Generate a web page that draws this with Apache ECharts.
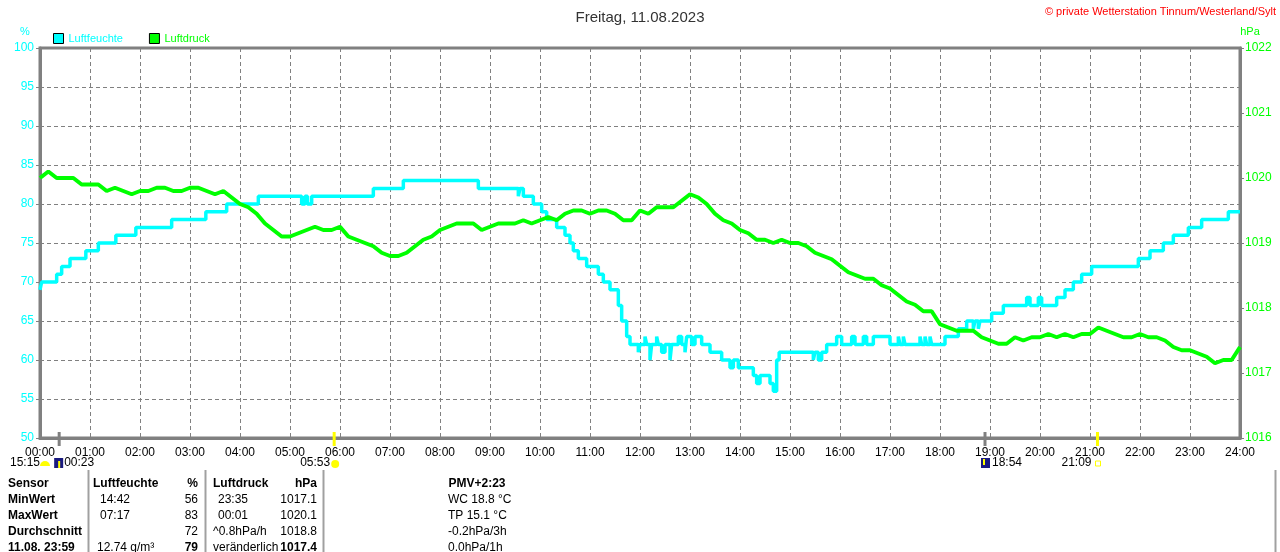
<!DOCTYPE html>
<html><head><meta charset="utf-8">
<script src="https://cdn.jsdelivr.net/npm/echarts@6/dist/echarts.min.js"></script>
<style>html,body{margin:0;padding:0;background:#fff}#c{width:1280px;height:552px}</style>
</head><body><div id="c"></div>
<script>
// ---------- data ----------
const titleText = "Freitag, 11.08.2023";
const copyrightText = "© private Wetterstation Tinnum/Westerland/Sylt";
const seriesNames = ["Luftfeuchte", "Luftdruck"];

// humidity (%) : value changes at given time (step function)
const humTimes = ["00:00","00:02","00:20","00:26","00:36","00:55","01:10","01:31","01:55","02:38","03:19","03:44","04:22","05:14","05:18","05:21","05:26","06:40","07:16","08:46","09:34","09:36","09:40","09:52","10:02","10:08","10:20","10:30","10:36","10:40","10:46","10:56","11:10","11:16","11:24","11:34","11:38","11:44","11:48","11:58","12:00","12:06","12:08","12:12","12:14","12:20","12:22","12:26","12:30","12:36","12:38","12:46","12:50","12:54","12:56","13:02","13:06","13:14","13:24","13:38","13:48","13:52","13:58","14:16","14:20","14:24","14:36","14:40","14:44","14:47","15:28","15:30","15:34","15:38","15:44","15:56","16:02","16:14","16:18","16:28","16:32","16:40","17:00","17:10","17:12","17:16","17:18","17:36","17:38","17:42","17:44","17:48","17:50","18:06","18:22","18:32","18:40","18:42","18:46","18:48","19:02","19:16","19:44","19:48","19:58","20:02","20:20","20:30","20:40","20:50","21:02","21:58","22:12","22:28","22:40","22:58","23:14","23:46","24:00"];
const humValues = [69,70,71,72,73,74,75,76,77,78,79,80,81,80,81,80,81,82,83,82,81,82,81,80,79,78,77,76,75,74,73,72,71,70,69,67,65,63,62,61,62,63,62,60,62,63,62,61,62,60,62,63,62,61,63,62,63,62,61,60,59,60,59,58,57,58,57,56,60,61,60,61,60,61,62,63,62,63,62,63,62,63,62,63,62,63,62,63,62,63,62,63,62,63,64,65,64,65,64,65,66,67,68,67,68,67,68,69,70,71,72,73,74,75,76,77,78,79,79];

// air pressure (hPa) every 10 minutes from 00:00 to 24:00
const presStepMinutes = 10;
const presValues = [
1020.0,1020.1,1020.0,1020.0,1020.0,1019.9,
1019.9,1019.9,1019.8,1019.85,1019.8,1019.75,
1019.8,1019.8,1019.85,1019.85,1019.8,1019.8,
1019.85,1019.85,1019.8,1019.75,1019.8,1019.7,
1019.6,1019.55,1019.45,1019.3,1019.2,1019.1,
1019.1,1019.15,1019.2,1019.25,1019.2,1019.2,
1019.25,1019.1,1019.05,1019.0,1018.95,1018.85,
1018.8,1018.8,1018.85,1018.95,1019.05,1019.1,
1019.2,1019.25,1019.3,1019.3,1019.3,1019.2,
1019.25,1019.3,1019.3,1019.3,1019.35,1019.3,
1019.35,1019.4,1019.35,1019.45,1019.5,1019.5,
1019.45,1019.5,1019.5,1019.45,1019.35,1019.35,
1019.5,1019.45,1019.55,1019.55,1019.55,1019.65,
1019.75,1019.7,1019.6,1019.45,1019.35,1019.3,
1019.2,1019.15,1019.05,1019.05,1019.0,1019.05,
1019.0,1019.0,1018.95,1018.85,1018.8,1018.75,
1018.65,1018.55,1018.5,1018.45,1018.45,1018.35,
1018.3,1018.2,1018.1,1018.05,1017.95,1017.95,
1017.75,1017.7,1017.65,1017.65,1017.65,1017.55,
1017.5,1017.45,1017.45,1017.55,1017.5,1017.55,
1017.55,1017.6,1017.55,1017.6,1017.55,1017.6,
1017.6,1017.7,1017.65,1017.6,1017.55,1017.55,
1017.6,1017.55,1017.55,1017.5,1017.4,1017.35,
1017.35,1017.3,1017.25,1017.15,1017.2,1017.2,
1017.4];

// sun / moon events
const eventTimes = ["00:23","05:53","18:54","21:09"];
const eventKinds = ["moonrise","sunrise","moonset","sunset"];
const eventColors = ["#808080","#ffff00","#808080","#ffff00"];

// statistics table
const tableHeader = ["Sensor","Luftfeuchte","%","Luftdruck","hPa","PMV+2:23"];
const rowLabels = ["MinWert","MaxWert","Durchschnitt","11.08. 23:59"];
const humTimeCol = ["14:42","07:17","","12.74 g/m³"];
const humValCol = ["56","83","72","79"];
const presTimeCol = ["23:35","00:01","^0.8hPa/h","veränderlich"];
const presValCol = ["1017.1","1020.1","1018.8","1017.4"];
const extraCol = ["WC 18.8 °C","TP 15.1 °C","-0.2hPa/3h","0.0hPa/1h"];

// ---------- chart ----------
const FONT = "'Liberation Sans', Arial, sans-serif";
const CYAN = "#00ffff", GREEN = "#00ff00", GRAY = "#808080";
function toMin(s){const p=s.split(":");return (+p[0])*60+(+p[1]);}
function pad(n){return (n<10?"0":"")+n;}

const humData = humTimes.map((t,i)=>[toMin(t), humValues[i]]);
const presData = presValues.map((v,i)=>[i*presStepMinutes, v]);

const chart = echarts.init(document.getElementById('c'), null, {renderer:'canvas'});
const option = {
  backgroundColor:'#fff',
  animation:false,
  textStyle:{fontFamily:FONT},
  title:{text:titleText,left:'center',top:5,textStyle:{fontFamily:FONT,fontSize:15,fontWeight:'normal',color:'#333'}},
  legend:{
    left:48, top:28, itemWidth:10, itemHeight:10, itemGap:26, icon:'rect',
    itemStyle:{borderColor:'#000',borderWidth:1},
    textStyle:{fontFamily:FONT,fontSize:11},
    data:[{name:seriesNames[0],textStyle:{color:CYAN}},{name:seriesNames[1],textStyle:{color:GREEN}}]
  },
  grid:{left:40,right:40,top:48,bottom:114,show:true,borderColor:GRAY,borderWidth:3,backgroundColor:'transparent'},
  xAxis:{
    type:'value',min:0,max:1440,interval:60,
    axisLine:{show:true,lineStyle:{color:GRAY,width:3}},
    axisTick:{show:false},
    axisLabel:{color:'#000',fontFamily:FONT,fontSize:12,margin:9,formatter:v=>pad(Math.round(v/60))+":00"},
    splitLine:{show:true,lineStyle:{color:GRAY,type:[4,3],width:1}}
  },
  yAxis:[
    {type:'value',min:50,max:100,interval:5,position:'left',
     axisLine:{show:true,lineStyle:{color:GRAY,width:3}},
     axisTick:{show:true,length:4,lineStyle:{color:GRAY,width:1}},
     axisLabel:{color:CYAN,fontFamily:FONT,fontSize:12,margin:6},
     splitLine:{show:true,lineStyle:{color:GRAY,type:[4,3],width:1}}},
    {type:'value',min:1016,max:1022,interval:1,position:'right',
     axisLine:{show:true,lineStyle:{color:GRAY,width:3}},
     axisTick:{show:true,length:4,lineStyle:{color:GRAY,width:1}},
     axisLabel:{color:GREEN,fontFamily:FONT,fontSize:12,margin:5,formatter:v=>String(v)},
     splitLine:{show:false}}
  ],
  series:[
    {name:seriesNames[0],type:'line',yAxisIndex:0,step:'end',data:humData,showSymbol:false,
     lineStyle:{color:CYAN,width:3.5},itemStyle:{color:CYAN},z:3},
    {name:seriesNames[1],type:'line',yAxisIndex:1,data:presData,showSymbol:false,
     lineStyle:{color:GREEN,width:4},itemStyle:{color:GREEN},z:4}
  ]
};
chart.setOption(option);

// ---------- extra graphics (units, events, table) ----------
const g = [];
function txt(x,y,t,opt){g.push({type:'text',x:x,y:y,silent:true,style:Object.assign({text:t,fill:'#000',font:'12px '+FONT,textVerticalAlign:'middle'},opt||{})});}
txt(25,32,'%',{fill:CYAN,font:'11px '+FONT,textAlign:'center'});
txt(1250,32,'hPa',{fill:GREEN,font:'11px '+FONT,textAlign:'center'});
txt(1276,12,copyrightText,{fill:'#ff0000',font:'11px '+FONT,textAlign:'right'});

const yAxisPix = chart.convertToPixel({yAxisIndex:0},50);
eventTimes.forEach((t,i)=>{
  const x = chart.convertToPixel({xAxisIndex:0},toMin(t));
  g.push({type:'rect',shape:{x:x-1.5,y:yAxisPix-6,width:3,height:14},style:{fill:eventColors[i]},silent:true,z:10});
});
// event labels row
const rowY = 463;
txt(10,rowY,'15:15');
g.push({type:'sector',shape:{cx:45,cy:rowY+3,r:5,startAngle:Math.PI,endAngle:2*Math.PI},style:{fill:'#ffff00'},silent:true});
(function(){
  const x0 = chart.convertToPixel({xAxisIndex:0},toMin(eventTimes[0]));
  g.push({type:'rect',shape:{x:x0-5,y:rowY-5,width:9,height:10},style:{fill:'#1a1a80'},silent:true});
  g.push({type:'rect',shape:{x:x0-1,y:rowY-2,width:2,height:7},style:{fill:'#ffff00'},silent:true});
  txt(x0+5,rowY,eventTimes[0]);
  const x1 = chart.convertToPixel({xAxisIndex:0},toMin(eventTimes[1]));
  txt(x1-4,rowY,eventTimes[1],{textAlign:'right'});
  g.push({type:'circle',shape:{cx:x1+1,cy:rowY+1,r:4},style:{fill:'#ffff00'},silent:true});
  const x2 = chart.convertToPixel({xAxisIndex:0},toMin(eventTimes[2]));
  g.push({type:'rect',shape:{x:x2-4,y:rowY-5,width:9,height:10},style:{fill:'#1a1a80'},silent:true});
  g.push({type:'rect',shape:{x:x2-2,y:rowY-4,width:2,height:6},style:{fill:'#ffff00'},silent:true});
  txt(x2+7,rowY,eventTimes[2]);
  const x3 = chart.convertToPixel({xAxisIndex:0},toMin(eventTimes[3]));
  txt(x3-6,rowY,eventTimes[3],{textAlign:'right'});
  g.push({type:'rect',shape:{x:x3-2,y:rowY-2,width:5,height:5},style:{fill:'none',stroke:'#ffff00',lineWidth:1},silent:true});
})();

// table
const B = 'bold 12px '+FONT, N = '12px '+FONT;
const rowsY = [484,500,516,532,548];
[88.5,205.5,323.5].forEach(x=>g.push({type:'line',shape:{x1:x,y1:470,x2:x,y2:552},style:{stroke:'#a0a0a0',lineWidth:2},silent:true}));
g.push({type:'line',shape:{x1:1275.5,y1:470,x2:1275.5,y2:552},style:{stroke:'#a0a0a0',lineWidth:2},silent:true});
txt(8,rowsY[0],tableHeader[0],{font:B});
txt(93,rowsY[0],tableHeader[1],{font:B});
txt(198,rowsY[0],tableHeader[2],{font:B,textAlign:'right'});
txt(213,rowsY[0],tableHeader[3],{font:B});
txt(317,rowsY[0],tableHeader[4],{font:B,textAlign:'right'});
txt(477,rowsY[0],tableHeader[5],{font:B,textAlign:'center'});
rowLabels.forEach((r,i)=>{
  const y = rowsY[i+1];
  const last = i===rowLabels.length-1;
  txt(8,y,r,{font:B});
  txt(last?97:100,y,humTimeCol[i],{font:N});
  txt(198,y,humValCol[i],{font:last?B:N,textAlign:'right'});
  txt(last?213:(i===2?213:218),y,presTimeCol[i],{font:N});
  txt(317,y,presValCol[i],{font:last?B:N,textAlign:'right'});
  txt(448,y,extraCol[i],{font:N});
});
chart.setOption({graphic:g});
</script></body></html>
